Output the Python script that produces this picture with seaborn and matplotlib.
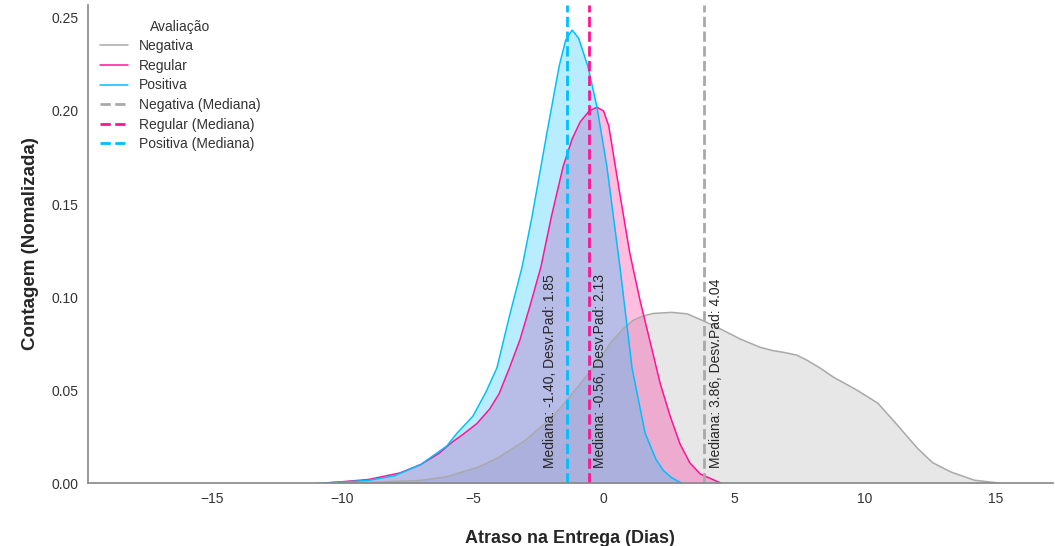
import numpy as np
import pandas as pd
import matplotlib
matplotlib.use('Agg')
import matplotlib.pyplot as plt
import seaborn as sns

# density curves (x = days of delay, y = normalized count)
neg_x = [-11.0, -9.0, -7.0, -6.0, -4.8, -4.0, -3.0, -2.0, -1.5, -0.8, -0.13, 0.25, 0.75, 1.13,
         1.5, 1.9, 2.6, 3.2, 3.7, 4.2, 4.6, 5.23, 6.0, 6.5, 6.9, 7.4, 7.8, 8.3, 8.8, 9.7, 10.5,
         11.2, 12.0, 12.6, 13.3, 14.2, 15.2]
neg_y = [0.0, 0.0004, 0.0015, 0.0035, 0.0086, 0.014, 0.023, 0.035, 0.043, 0.055, 0.067, 0.075,
         0.083, 0.0875, 0.0898, 0.0912, 0.0918, 0.0910, 0.0880, 0.0848, 0.082, 0.0775, 0.0730,
         0.0712, 0.0703, 0.0688, 0.066, 0.0618, 0.057, 0.050, 0.043, 0.032, 0.019, 0.011, 0.006,
         0.0016, 0.0]

reg_x = [-10.8, -10.0, -9.0, -7.8, -7.0, -6.3, -5.8, -5.4, -4.85, -4.35, -4.0, -3.6, -3.2, -2.8,
         -2.4, -2.0, -1.55, -1.2, -0.9, -0.55, -0.25, 0.0, 0.2, 0.63, 1.0, 1.4, 1.8, 2.16, 2.55,
         2.93, 3.3, 3.7, 4.5]
reg_y = [0.0, 0.0008, 0.002, 0.0055, 0.010, 0.016, 0.022, 0.026, 0.032, 0.040, 0.048, 0.062,
         0.077, 0.096, 0.116, 0.143, 0.170, 0.185, 0.194, 0.200, 0.202, 0.200, 0.192, 0.155,
         0.124, 0.098, 0.075, 0.054, 0.036, 0.021, 0.011, 0.005, 0.0]

pos_x = [-10.8, -9.0, -8.0, -7.0, -6.0, -5.6, -5.0, -4.5, -4.08, -3.58, -3.12, -2.74, -2.17,
         -1.7, -1.45, -1.2, -0.95, -0.6, -0.25, 0.13, 0.63, 1.09, 1.59, 2.0, 2.28, 2.6, 3.0]
pos_y = [0.0, 0.0015, 0.004, 0.010, 0.020, 0.027, 0.036, 0.049, 0.062, 0.091, 0.116, 0.143,
         0.188, 0.224, 0.238, 0.2435, 0.239, 0.224, 0.202, 0.170, 0.116, 0.062, 0.027, 0.013,
         0.007, 0.003, 0.0]

categories = ['Negativa', 'Regular', 'Positiva']
medians = [3.86, -0.56, -1.40]
std_devs = [4.04, 2.13, 1.85]
colors = ['darkgray', 'deeppink', 'deepskyblue']

curves = {'Negativa': (neg_x, neg_y), 'Regular': (reg_x, reg_y), 'Positiva': (pos_x, pos_y)}

sns.set_style('white')
plt.rcParams['font.family'] = ['Liberation Sans', 'DejaVu Sans']

fig, ax = plt.subplots(figsize=(10.55, 5.46), dpi=100)
fig.subplots_adjust(left=0.083, right=0.998, top=0.991, bottom=0.115)

for cat, col in zip(categories, colors):
    xs, ys = curves[cat]
    df = pd.DataFrame({'x': xs, 'y': ys})
    sns.lineplot(data=df, x='x', y='y', color=col, linewidth=1.1, label=cat, ax=ax)
    ax.fill_between(df['x'], df['y'], color=col, alpha=0.28, linewidth=0)

# median lines
for cat, col, med in zip(categories, colors, medians):
    ax.axvline(med, color=col, linestyle='--', linewidth=2, label=f'{cat} (Mediana)')

# median annotations (Positiva placed on the left of its line)
for cat, med, sd in zip(categories, medians, std_devs):
    txt = f'Mediana: {med:.2f}, Desv.Pad: {sd:.2f}'
    if cat == 'Positiva':
        ax.text(med - 0.38, 0.008, txt, rotation=90, ha='right', va='bottom', fontsize=10)
    else:
        ax.text(med + 0.16, 0.008, txt, rotation=90, ha='left', va='bottom', fontsize=10)

ax.set_xlim(-19.75, 17.2)
ax.set_ylim(0, 0.257)
ax.set_xticks([-15, -10, -5, 0, 5, 10, 15])
ax.set_xticklabels(['\u221215', '\u221210', '\u22125', '0', '5', '10', '15'])
ax.set_yticks([0, 0.05, 0.10, 0.15, 0.20, 0.25])
ax.yaxis.set_major_formatter(matplotlib.ticker.FormatStrFormatter('%.2f'))
ax.tick_params(labelsize=10, colors='#333333', pad=3)

ax.set_xlabel('Atraso na Entrega (Dias)', fontsize=13, fontweight='bold', labelpad=17)
ax.set_ylabel('Contagem (Nomalizada)', fontsize=13.5, fontweight='bold', labelpad=9)

sns.despine(ax=ax)
for side in ['left', 'bottom']:
    ax.spines[side].set_color('#888888')
    ax.spines[side].set_linewidth(1.2)

leg = ax.legend(title='Avaliação', loc='upper left', frameon=False, fontsize=10,
                title_fontsize=10, labelspacing=0.4, bbox_to_anchor=(0.0, 0.995))
leg.get_title().set_color('#333333')
for t in leg.get_texts():
    t.set_color('#333333')

plt.savefig('out.png', dpi=100)
